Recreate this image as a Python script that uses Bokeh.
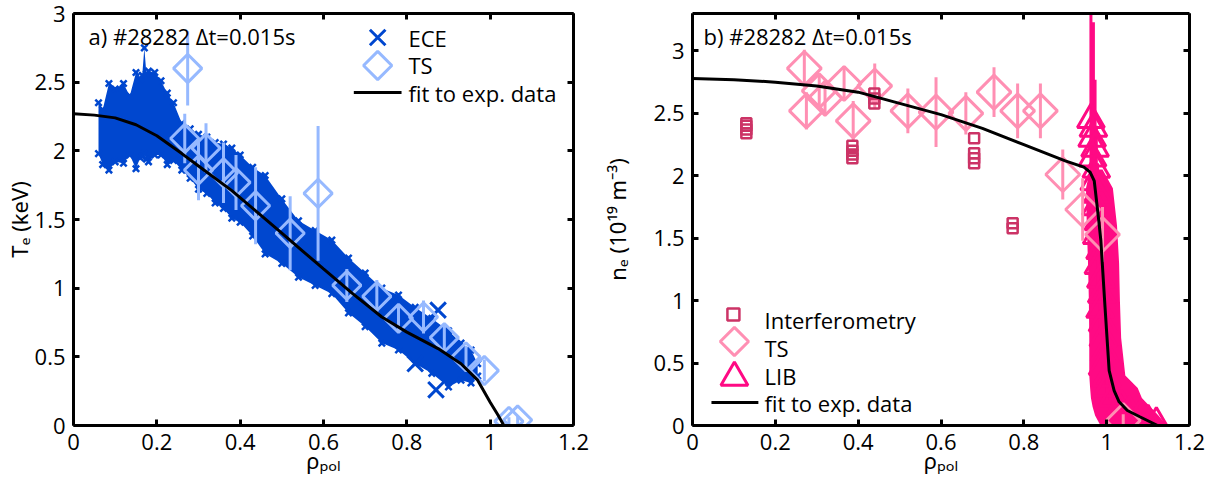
import numpy as np
from bokeh.plotting import figure
from bokeh.models import (Range1d, LinearAxis, FixedTicker, NumeralTickFormatter, Label)
from bokeh.layouts import row
from bokeh.embed import file_html
from bokeh.resources import INLINE

FONT = "Open Sans"
LABEL_FONT = "Noto Sans"

# ---------------- panel a) electron temperature ----------------
ece_rho = [0.06, 0.07, 0.085, 0.10, 0.12, 0.135, 0.15, 0.16, 0.165, 0.17, 0.175, 0.18,
           0.195, 0.21, 0.225, 0.24, 0.26, 0.28, 0.30, 0.32, 0.34, 0.36,
           0.38, 0.40, 0.43, 0.46, 0.50, 0.54, 0.58, 0.62, 0.66, 0.70,
           0.74, 0.78, 0.82, 0.86, 0.90, 0.93, 0.954, 0.97]
ece_te_lo = [1.98, 1.90, 1.86, 1.92, 1.91, 1.97, 1.87, 1.95, 1.96, 1.98, 1.94, 1.92,
             1.97, 1.97, 1.90, 1.93, 1.86, 1.80, 1.72, 1.69, 1.62, 1.58,
             1.51, 1.48, 1.38, 1.25, 1.18, 1.08, 1.02, 0.96, 0.82, 0.72,
             0.60, 0.55, 0.45, 0.38, 0.28, 0.33, 0.31, 0.36]
ece_te_hi = [2.35, 2.30, 2.49, 2.45, 2.49, 2.40, 2.57, 2.52, 2.55, 2.75, 2.56, 2.58,
             2.57, 2.51, 2.42, 2.35, 2.20, 2.16, 2.12, 2.10, 2.06, 2.05,
             2.02, 1.97, 1.88, 1.82, 1.65, 1.49, 1.42, 1.35, 1.22, 1.11,
             1.00, 0.95, 0.86, 0.78, 0.69, 0.60, 0.55, 0.45]
ece_out_rho = [0.82, 0.87, 0.875]
ece_out_te = [0.45, 0.26, 0.84]

ts_a_rho = [0.267, 0.274, 0.300, 0.318, 0.360, 0.390, 0.437, 0.520, 0.587, 0.656,
            0.728, 0.780, 0.840, 0.890, 0.942, 0.986, 1.045, 1.066]
ts_a_te = [2.09, 2.60, 1.86, 2.02, 1.84, 1.77, 1.60, 1.40, 1.69, 1.02,
           0.94, 0.78, 0.79, 0.64, 0.50, 0.40, 0.03, 0.04]
ts_a_err = [0.18, 0.27, 0.22, 0.18, 0.22, 0.20, 0.28, 0.27, 0.49, 0.12,
            0.12, 0.10, 0.12, 0.10, 0.08, 0.08, 0.03, 0.03]

fit_a_rho = [0, 0.05, 0.1, 0.15, 0.2, 0.26, 0.3, 0.38, 0.45, 0.5, 0.55, 0.6, 0.67,
             0.74, 0.8, 0.875, 0.93, 0.97, 1.0, 1.018, 1.033]
fit_a_te = [2.27, 2.26, 2.24, 2.19, 2.11, 1.98, 1.89, 1.71, 1.53, 1.40, 1.27, 1.14, 0.96,
            0.79, 0.68, 0.56, 0.45, 0.33, 0.17, 0.08, 0.0]

# ---------------- panel b) electron density ----------------
interf_rho = [0.13, 0.13, 0.13, 0.13, 0.386, 0.386, 0.386, 0.386, 0.439, 0.439, 0.439,
              0.68, 0.68, 0.68, 0.68, 0.773, 0.773]
interf_ne = [2.34, 2.37, 2.40, 2.42, 2.14, 2.17, 2.20, 2.24, 2.58, 2.62, 2.66,
             2.10, 2.14, 2.18, 2.30, 1.58, 1.62]

ts_b_rho = [0.270, 0.275, 0.306, 0.320, 0.366, 0.388, 0.440, 0.520, 0.588, 0.660,
            0.728, 0.785, 0.840, 0.894, 0.942, 0.990, 1.040]
ts_b_ne = [2.86, 2.52, 2.68, 2.62, 2.74, 2.44, 2.72, 2.52, 2.51, 2.50,
           2.67, 2.52, 2.52, 2.01, 1.73, 1.53, 0.04]
ts_b_err = [0.15, 0.15, 0.12, 0.12, 0.14, 0.16, 0.18, 0.18, 0.28, 0.17,
            0.20, 0.22, 0.22, 0.20, 0.25, 0.22, 0.05]

lib_rho = [0.962, 0.968, 0.965, 0.972, 0.966, 0.975, 0.970, 0.978, 0.974, 0.980,
           0.976, 0.984, 0.980, 0.986, 0.988, 0.984, 0.990, 0.992, 0.995, 0.990,
           1.000, 1.002, 1.015, 1.035, 1.055, 1.080, 1.100, 1.120]
lib_ne = [2.45, 2.38, 2.30, 2.22, 2.14, 2.05, 1.95, 1.85, 1.75, 1.63,
          1.52, 1.40, 1.28, 1.17, 1.05, 0.93, 0.82, 0.70, 0.58, 0.47,
          0.38, 0.30, 0.22, 0.16, 0.11, 0.07, 0.04, 0.02]
lib_err = [0.90, 0.85, 0.60, 0.55, 0.40, 0.35, 0.30, 0.25, 0.25, 0.20,
           0.20, 0.20, 0.20, 0.20, 0.20, 0.20, 0.20, 0.20, 0.15, 0.15,
           0.15, 0.10, 0.10, 0.08, 0.05, 0.05, 0.04, 0.03]
lib_env_ne = [0.00, 0.08, 0.15, 0.22, 0.30, 0.40, 0.70, 1.00, 1.30, 1.60, 1.90, 2.05]
lib_env_lo = [0.985, 0.972, 0.966, 0.962, 0.960, 0.958, 0.958, 0.957, 0.955, 0.952, 0.950, 0.960]
lib_env_hi = [1.145, 1.125, 1.105, 1.085, 1.075, 1.045, 1.035, 1.032, 1.030, 1.025, 1.015, 0.990]

fit_b_rho = [0, 0.1, 0.2, 0.3, 0.4, 0.5, 0.6, 0.7, 0.8, 0.9, 0.945, 0.960, 0.970, 0.981,
             0.986, 0.996, 1.006, 1.018, 1.03, 1.05, 1.08, 1.123]
fit_b_ne = [2.78, 2.77, 2.75, 2.72, 2.67, 2.58, 2.49, 2.38, 2.25, 2.12, 2.07, 2.03, 1.96, 1.64,
            1.48, 0.95, 0.44, 0.28, 0.19, 0.12, 0.07, 0.0]

x_ticks = [0, 0.2, 0.4, 0.6, 0.8, 1.0, 1.2]
y_ticks = [0, 0.5, 1, 1.5, 2, 2.5, 3]

legend_a_labels = ["ECE", "TS", "fit to exp. data"]
legend_b_labels = ["Interferometry", "TS", "LIB", "fit to exp. data"]

x_title = "\u03c1\u209a\u2092\u2097"
ya_title = "T\u2091 (keV)"
yb_title = "n\u2091 (10\u00b9\u2079 m\u207b\u00b3)"

ECE_C = "#0047cf"
TSA_C = "#96b9ff"
INT_C = "#cc3366"
TSB_C = "#ff8fb3"
LIB_C = "#ff0a84"

FRAME_BOTTOM = 425
FRAME_TOP = 13


def style_axis(ax, ticks, show_labels=True):
    ax.ticker = FixedTicker(ticks=ticks)
    ax.formatter = NumeralTickFormatter(format="0[.]0")
    ax.axis_line_width = 3
    ax.axis_line_color = "black"
    ax.major_tick_in = 6
    ax.major_tick_out = 0
    ax.major_tick_line_width = 3
    ax.minor_tick_line_color = None
    ax.major_label_text_font = FONT
    ax.axis_label_text_font = LABEL_FONT
    ax.axis_label_text_font_style = "normal"
    ax.axis_label_text_font_size = "22px"
    ax.axis_label_text_color = "black"
    if show_labels:
        ax.major_label_text_color = "black"
        ax.major_label_text_font_size = "22px"
        ax.major_label_standoff = 8
    else:
        ax.major_label_text_color = None
        ax.major_label_text_font_size = "8px"
        ax.major_label_standoff = 0


def make_fig(width, y_end, bl, br, ytitle, ystand):
    p = figure(width=width, height=486, x_range=Range1d(0, 1.2), y_range=Range1d(0, y_end),
               output_backend="svg", toolbar_location=None,
               min_border_left=bl, min_border_right=br, min_border_top=FRAME_TOP,
               min_border_bottom=486 - FRAME_BOTTOM)
    p.xgrid.visible = False
    p.ygrid.visible = False
    p.outline_line_color = None
    style_axis(p.xaxis[0], x_ticks)
    style_axis(p.yaxis[0], y_ticks)
    p.xaxis[0].axis_label = x_title
    p.xaxis[0].axis_label_standoff = -8
    p.yaxis[0].axis_label = ytitle
    p.yaxis[0].axis_label_standoff = ystand
    top = LinearAxis()
    style_axis(top, x_ticks, False)
    p.add_layout(top, "above")
    right = LinearAxis()
    style_axis(right, y_ticks, False)
    p.add_layout(right, "right")
    return p


def add_text(p, frame_left, txt, cx, cy, size):
    # (cx, cy): left end / vertical middle of the text, in page pixels
    p.add_layout(Label(x=cx - frame_left, y=FRAME_BOTTOM - cy, x_units="screen", y_units="screen",
                       text=txt, text_font=FONT, text_font_size=f"{size}px",
                       text_color="black", text_align="left", text_baseline="middle"))


class PixelMap:
    """converts a pixel position of a legend key into the panel's data space"""
    def __init__(self, left, right, y_end):
        self.left, self.right, self.y_end = left, right, y_end

    def x(self, cx):
        return (cx - self.left) / (self.right - self.left) * 1.2

    def y(self, cy):
        return (FRAME_BOTTOM - cy) / (FRAME_BOTTOM - FRAME_TOP) * self.y_end


# ---------------- figure a ----------------
pa = make_fig(598, 3.0, 70, 25, ya_title, -2)
FL_A = 70
ma = PixelMap(70, 573, 3.0)
pa.varea(x=ece_rho, y1=ece_te_lo, y2=ece_te_hi, fill_color=ECE_C)
pa.scatter(ece_rho, ece_te_hi, marker="x", size=9, line_width=2.5, line_color=ECE_C)
pa.scatter(ece_rho, ece_te_lo, marker="x", size=9, line_width=2.5, line_color=ECE_C)
pa.scatter(ece_out_rho, ece_out_te, marker="x", size=22, line_width=3, line_color=ECE_C)

ta = np.array(ts_a_te)
ea = np.array(ts_a_err)
pa.segment(x0=ts_a_rho, y0=ta - ea, x1=ts_a_rho, y1=ta + ea, line_color=TSA_C, line_width=3)
pa.scatter(ts_a_rho, ts_a_te, marker="square", angle=np.pi / 4, size=20,
           fill_color=None, line_color=TSA_C, line_width=3)
pa.line(fit_a_rho, fit_a_te, line_color="black", line_width=3)

# legend keys (a)
pa.scatter([ma.x(376)], [ma.y(37)], marker="x", size=22, line_width=3, line_color=ECE_C)
pa.scatter([ma.x(376)], [ma.y(65)], marker="square", angle=np.pi / 4, size=20,
           fill_color=None, line_color=TSA_C, line_width=3)
pa.line([ma.x(352), ma.x(400)], [ma.y(92)] * 2, line_color="black", line_width=3)
for lab, my in zip(legend_a_labels, [37, 64, 92]):
    add_text(pa, FL_A, lab, 405, my, 22)
add_text(pa, FL_A, "a) #28282 \u0394t=0.015s", 85, 35, 22)

# ---------------- figure b ----------------
pb = make_fig(614, 3.3, 93, 23, yb_title, 19)
FL_B = 691
mb = PixelMap(691, 1189, 3.3)
pb.harea(y=lib_env_ne, x1=lib_env_lo, x2=lib_env_hi, fill_color=LIB_C)
nl = np.array(lib_ne)
el = np.array(lib_err)
pb.segment(x0=lib_rho, y0=nl - el, x1=lib_rho, y1=nl + el, line_color=LIB_C, line_width=3)
pb.scatter(lib_rho, lib_ne, marker="triangle", size=27, fill_color=None,
           line_color=LIB_C, line_width=3)
tb = np.array(ts_b_ne)
eb = np.array(ts_b_err)
pb.segment(x0=ts_b_rho, y0=tb - eb, x1=ts_b_rho, y1=tb + eb, line_color=TSB_C, line_width=3)
pb.scatter(ts_b_rho, ts_b_ne, marker="square", angle=np.pi / 4, size=24,
           fill_color=None, line_color=TSB_C, line_width=3)
pb.scatter(interf_rho, interf_ne, marker="square", size=10, fill_color=None,
           line_color=INT_C, line_width=2.5)
pb.line(fit_b_rho, fit_b_ne, line_color="black", line_width=3)

# legend keys (b)
pb.scatter([mb.x(732)], [mb.y(314)], marker="square", size=12, fill_color=None,
           line_color=INT_C, line_width=2.5)
pb.scatter([mb.x(733)], [mb.y(341)], marker="square", angle=np.pi / 4, size=20,
           fill_color=None, line_color=TSB_C, line_width=3)
pb.scatter([mb.x(733)], [mb.y(377)], marker="triangle", size=27, fill_color=None,
           line_color=LIB_C, line_width=3)
pb.line([mb.x(710), mb.x(757)], [mb.y(402)] * 2, line_color="black", line_width=3)
for lab, my in zip(legend_b_labels, [319, 347, 375, 402]):
    add_text(pb, FL_B, lab, 763, my, 22)
add_text(pb, FL_B, "b) #28282 \u0394t=0.015s", 702, 35, 22)

layout = row(pa, pb)
open("out.html", "w").write(file_html(layout, INLINE))
